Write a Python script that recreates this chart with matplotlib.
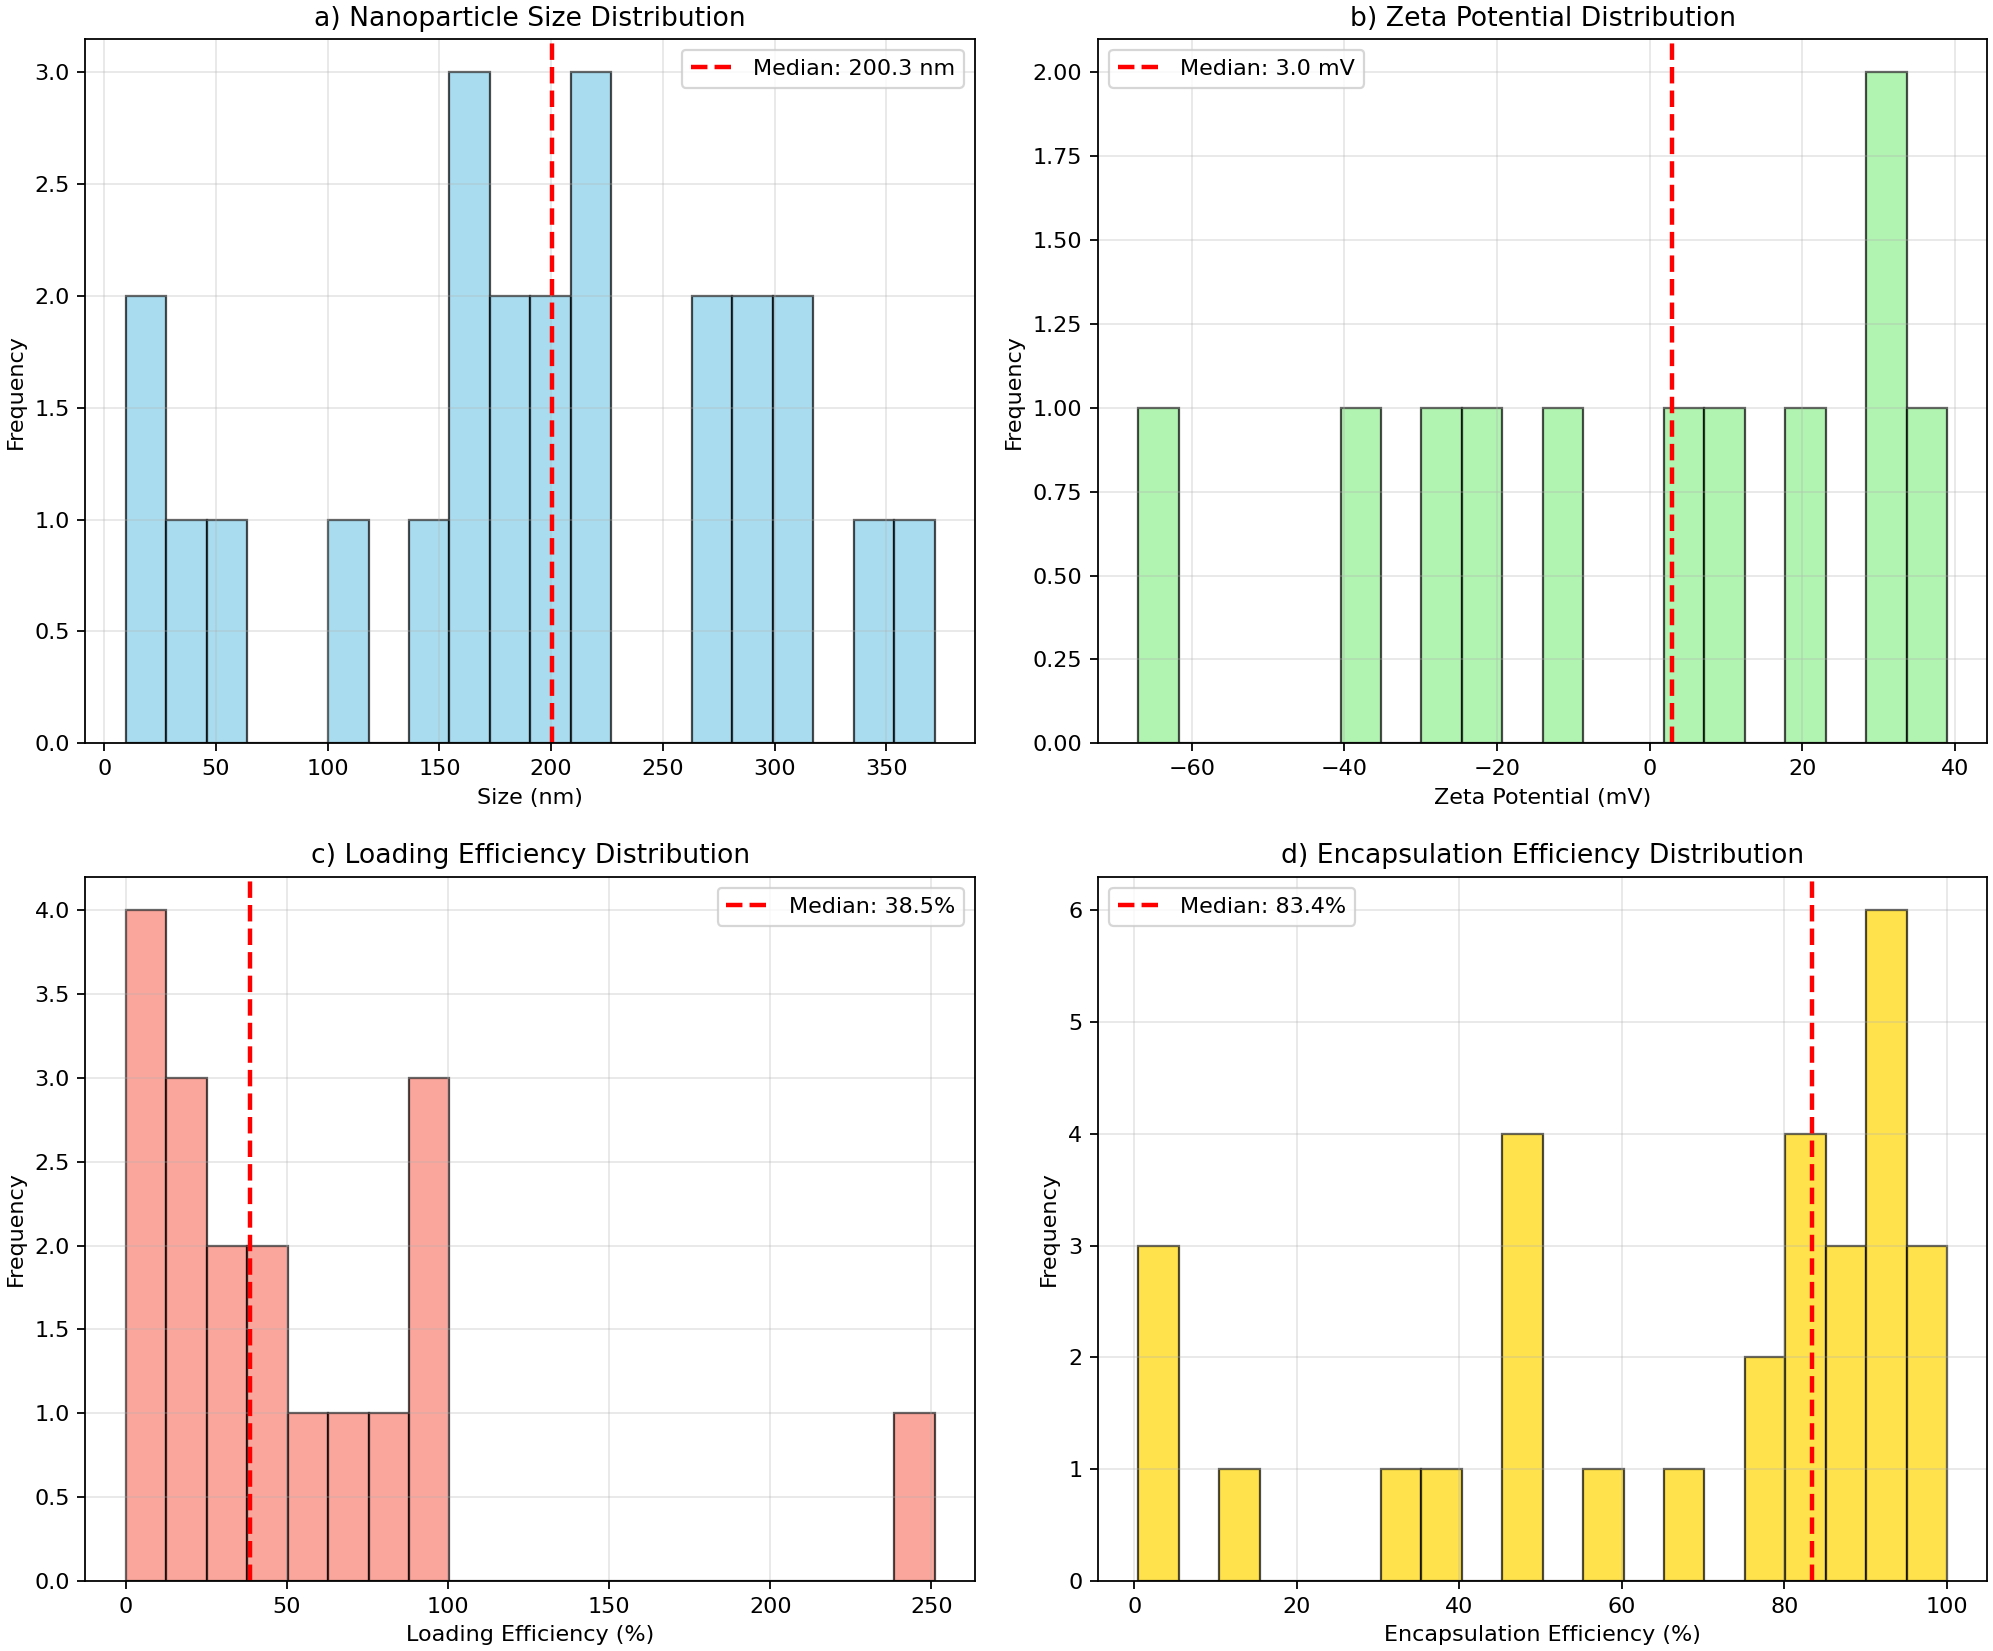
import numpy as np
import matplotlib
matplotlib.use("Agg")
import matplotlib.pyplot as plt

# Panel a: size (nm)
size_edges = np.linspace(9.7, 371.6, 21)
size_counts = [2, 1, 1, 0, 0, 1, 0, 1, 3, 2, 2, 3, 0, 0, 2, 2, 2, 0, 1, 1]
size_median = 200.3

# Panel b: zeta potential (mV)
zeta_edges = np.linspace(-67.0, 39.0, 21)
zeta_counts = [1, 0, 0, 0, 0, 1, 0, 1, 1, 0, 1, 0, 0, 1, 1, 0, 1, 0, 2, 1]
zeta_median = 3.0

# Panel c: loading efficiency (%)
load_edges = np.linspace(0.0, 251.0, 21)
load_counts = [4, 3, 2, 2, 1, 1, 1, 3, 0, 0, 0, 0, 0, 0, 0, 0, 0, 0, 0, 1]
load_median = 38.5

# Panel d: encapsulation efficiency (%)
enc_edges = np.linspace(0.5, 100.0, 21)
enc_counts = [3, 0, 1, 0, 0, 0, 1, 1, 0, 4, 0, 1, 0, 1, 0, 2, 4, 3, 6, 3]
enc_median = 83.4

panels = [
    ("a) Nanoparticle Size Distribution", "Size (nm)", size_edges, size_counts,
     "skyblue", size_median, "Median: {:.1f} nm", "upper right"),
    ("b) Zeta Potential Distribution", "Zeta Potential (mV)", zeta_edges, zeta_counts,
     "lightgreen", zeta_median, "Median: {:.1f} mV", "upper left"),
    ("c) Loading Efficiency Distribution", "Loading Efficiency (%)", load_edges, load_counts,
     "salmon", load_median, "Median: {:.1f}%", "upper right"),
    ("d) Encapsulation Efficiency Distribution", "Encapsulation Efficiency (%)", enc_edges, enc_counts,
     "gold", enc_median, "Median: {:.1f}%", "upper left"),
]

DPI = 160
fig, axes = plt.subplots(2, 2, figsize=(1993 / DPI, 1651 / DPI), dpi=DPI)
for ax, (title, xlabel, edges, counts, color, med, fmt, loc) in zip(axes.flat, panels):
    centers = (edges[:-1] + edges[1:]) / 2
    ax.hist(centers, bins=edges, weights=counts, color=color, alpha=0.7, edgecolor="black")
    ax.axvline(med, color="red", linestyle="--", linewidth=2, label=fmt.format(med))
    ax.set_title(title, fontsize=12)
    ax.set_xlabel(xlabel)
    ax.set_ylabel("Frequency")
    ax.grid(True, alpha=0.3)
    ax.legend(loc=loc)

fig.tight_layout(pad=0.25, w_pad=1.3, h_pad=1.6)
fig.savefig("out.png", dpi=DPI)
